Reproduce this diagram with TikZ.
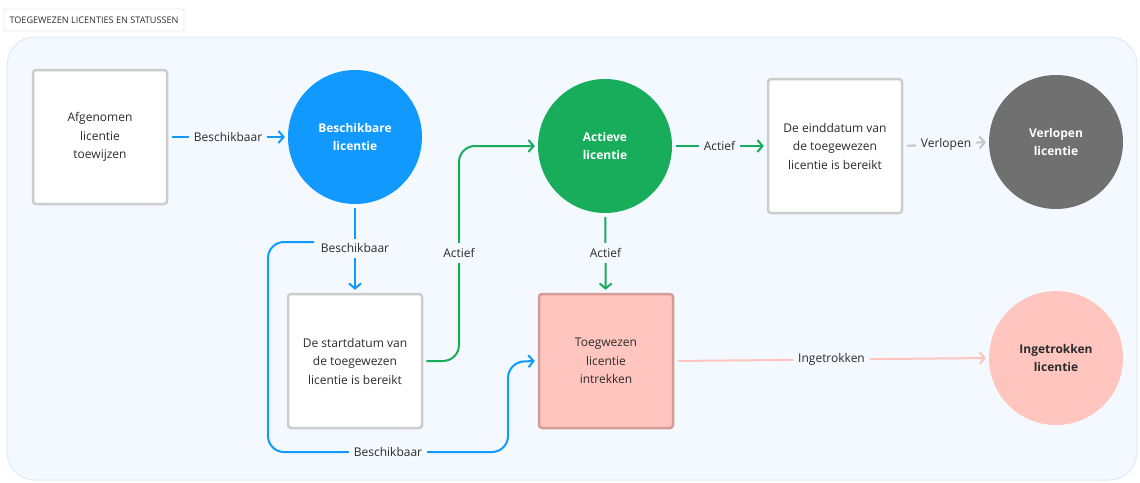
\documentclass[tikz,border=0pt]{standalone}
\usepackage{fontspec}
\setmainfont{Open Sans}
\usetikzlibrary{arrows.meta}
\definecolor{panelbg}{HTML}{F4F9FF}
\definecolor{panelline}{HTML}{DDEBF8}
\definecolor{boxline}{HTML}{CCCCCC}
\definecolor{txt}{HTML}{2B2B2B}
\definecolor{blueish}{HTML}{1199FF}
\definecolor{greenish}{HTML}{18AD5B}
\definecolor{greyish}{HTML}{707070}
\definecolor{lightgrey}{HTML}{C4C4C4}
\definecolor{pinkish}{HTML}{FFC5BE}
\definecolor{pinkline}{HTML}{D49C96}
\tikzset{
    stepbox/.style={draw=boxline, line width=2.5pt, fill=white, rounded corners=3pt,
        minimum width=134pt, minimum height=134pt, align=center, text=txt,
        font=\fontsize{12}{18.5}\selectfont},
    state/.style={circle, minimum size=134pt, align=center, text=white,
        font=\fontsize{12}{18}\selectfont\bfseries},
    lbl/.style={fill=panelbg, inner sep=5pt, text=txt, font=\fontsize{12}{14}\selectfont},
    flow/.style={line width=2pt, -{Straight Barb[length=5pt,width=12pt,line width=2pt]}}
}
\begin{document}
\begin{tikzpicture}[x=1pt, y=-1pt]
    \useasboundingbox (0,0) rectangle (1140,482);
    \path[fill=panelbg, draw=panelline, line width=1pt, rounded corners=28pt] (7,37) rectangle (1137,480);
    \node[draw=boxline, fill=white, rounded corners=2pt, minimum width=180pt, minimum height=22pt,
        text=txt, font=\fontsize{9.1}{10}\selectfont] (title) at (94,20) {TOEGEWEZEN LICENTIES EN STATUSSEN};

    \foreach \name/\x/\y/\txt in {afg/100/137/{Afgenomen\\licentie\\toewijzen},
                                  start/355/361/{De startdatum van\\de toegewezen\\licentie is bereikt},
                                  eind/835/146/{De einddatum van\\de toegewezen\\licentie is bereikt}}
        \node[stepbox] (\name) at (\x,\y) {\txt};
    \node[stepbox, fill=pinkish, draw=pinkline] (intrek) at (606,361) {Toegwezen\\licentie\\intrekken};

    \node[state, fill=blueish] (beschikbaar) at (355,137) {Beschikbare\\licentie};
    \node[state, fill=greenish] (actief) at (605,146) {Actieve\\licentie};
    \node[state, fill=greyish] (verlopen) at (1056,142) {Verlopen\\licentie};
    \node[state, fill=pinkish, text=txt] (ingetrokken) at (1056,358) {Ingetrokken\\licentie};

    \draw[flow, blueish, shorten <=4pt, shorten >=3pt] (afg) -- (beschikbaar)
        node[lbl, midway] {Beschikbaar};
    \draw[flow, blueish, shorten <=4pt, shorten >=3pt] (beschikbaar) -- (start)
        node[lbl, pos=0.5] (lblBC) {Beschikbaar};
    \coordinate (split) at (314,242);
    \draw[flow, blueish, rounded corners=16pt] (split) -- (268,242) -- (268,452) -- (508,452) -- (508,362) -- ([xshift=-3pt]intrek.west);
    \node[lbl] (lblloop) at (388,452) {Beschikbaar};
    \draw[flow, greenish, rounded corners=16pt, shorten <=3pt] (start.east) -- (459,361) -- (459,146) -- ([xshift=-3pt]actief.west);
    \node[lbl] (lblCD) at (459,253) {Actief};
    \draw[flow, greenish, shorten <=4pt, shorten >=3pt] (actief) -- (eind)
        node[lbl, midway] {Actief};
    \draw[flow, greenish, shorten <=4pt, shorten >=3pt] (actief) -- (intrek)
        node[lbl, midway] {Actief};
    \draw[flow, lightgrey, shorten <=4pt, shorten >=3pt] (eind.east) -- (verlopen.west)
        node[lbl, midway] {Verlopen};
    \draw[flow, pinkish, shorten <=4pt, shorten >=3pt] (intrek.east) -- (ingetrokken.west)
        node[lbl, midway] {Ingetrokken};
\end{tikzpicture}
\end{document}
